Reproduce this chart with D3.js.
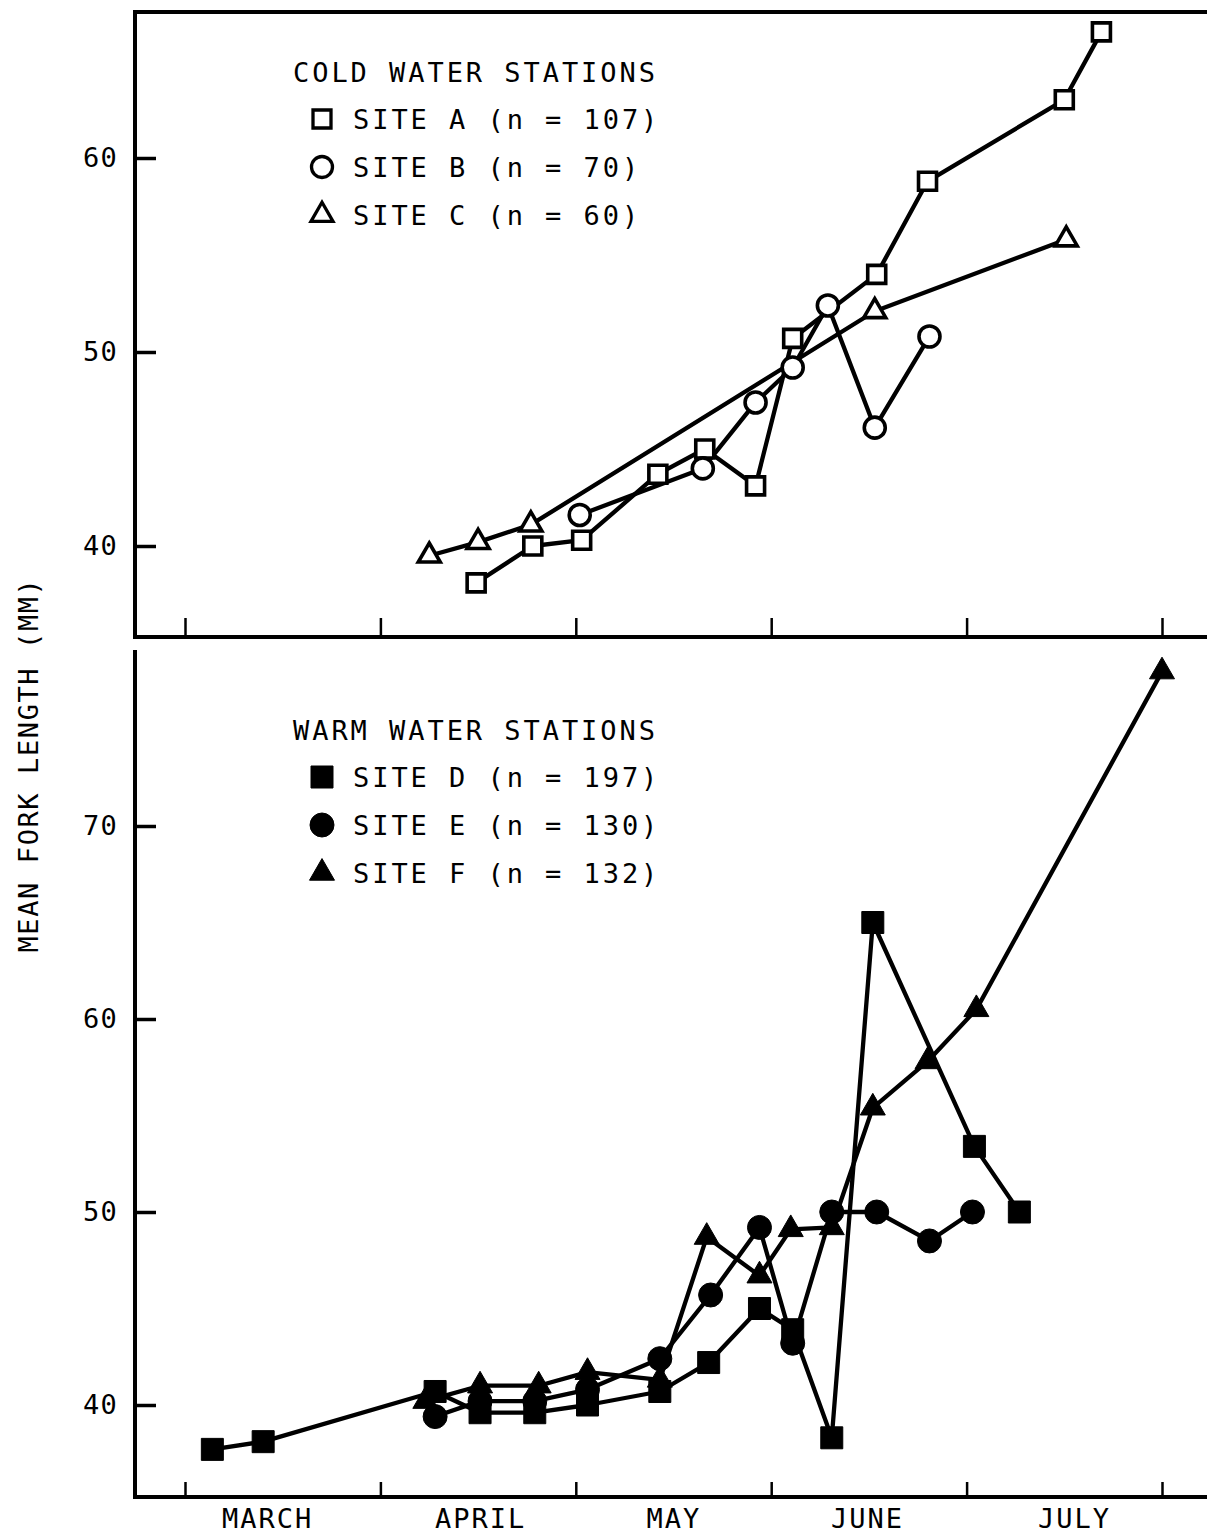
<!DOCTYPE html>
<html>
<head>
<meta charset="utf-8">
<script src="https://cdn.jsdelivr.net/npm/d3@7"></script>
<style>
  html, body { margin: 0; padding: 0; background: #fff; }
  svg { display: block; }
  text { font-family: "DejaVu Sans Mono", "Liberation Mono", monospace; fill: #000; }
</style>
</head>
<body>
<svg id="chart" width="1207" height="1535"></svg>
<script>
// Sampling time is measured in months from 1 March (0 = 1 Mar, 1 = 1 Apr, ...).
const monthNames = ["MARCH", "APRIL", "MAY", "JUNE", "JULY"];
const monthLabelAt = [0.42, 1.51, 2.5, 3.49, 4.55];
const monthBoundaries = [0, 1, 2, 3, 4, 5];

const coldTicks = [40, 50, 60];
const warmTicks = [40, 50, 60, 70];

// Cold water stations: [month, mean fork length (mm)]
const siteA = [[1.49, 38.1], [1.78, 40.0], [2.03, 40.3], [2.42, 43.7], [2.66, 45.0], [2.92, 43.1],
               [3.11, 50.7], [3.54, 54.0], [3.80, 58.8], [4.50, 63.0], [4.69, 66.5]];
const siteB = [[2.02, 41.6], [2.65, 44.0], [2.92, 47.4], [3.11, 49.2], [3.29, 52.4], [3.53, 46.1], [3.81, 50.8]];
const siteC = [[1.25, 39.5], [1.50, 40.2], [1.77, 41.1], [3.53, 52.1], [4.51, 55.8]];

// Warm water stations
const siteD = [[0.14, 37.7], [0.40, 38.1], [1.28, 40.7], [1.51, 39.6], [1.79, 39.6], [2.06, 40.0], [2.43, 40.7],
               [2.68, 42.2], [2.94, 45.0], [3.11, 43.9], [3.31, 38.3], [3.52, 65.0], [4.04, 53.4], [4.27, 50.0]];
const siteE = [[1.28, 39.4], [1.51, 40.2], [1.79, 40.2], [2.06, 40.8], [2.43, 42.4], [2.69, 45.7],
               [2.94, 49.2], [3.11, 43.2], [3.31, 50.0], [3.54, 50.0], [3.81, 48.5], [4.03, 50.0]];
const siteF = [[1.23, 40.2], [1.51, 41.0], [1.81, 41.0], [2.06, 41.7], [2.43, 41.3], [2.67, 48.7], [2.94, 46.7],
               [3.10, 49.1], [3.31, 49.2], [3.52, 55.4], [3.80, 57.8], [4.05, 60.5], [5.00, 78.0]];

const coldLegend = { title: "COLD WATER STATIONS", rows: [
  { label: "SITE A (n = 107)", shape: "square", filled: false },
  { label: "SITE B (n = 70)",  shape: "circle", filled: false },
  { label: "SITE C (n = 60)",  shape: "triangle", filled: false } ] };
const warmLegend = { title: "WARM WATER STATIONS", rows: [
  { label: "SITE D (n = 197)", shape: "square", filled: true },
  { label: "SITE E (n = 130)", shape: "circle", filled: true },
  { label: "SITE F (n = 132)", shape: "triangle", filled: true } ] };

// ---- layout ----
const plotLeft = 135, plotRight = 1207;
const FONT = 27;

const svg = d3.select("#chart");
const x = d3.scaleLinear().domain([0, 5]).range([185, 1162]);

const panels = [
  { top: 12, bottom: 637, y: d3.scaleLinear().domain([40, 60]).range([546, 158]), ticks: coldTicks,
    frameTop: true, xTick: 19, legend: coldLegend, legendY: 72,
    series: [ { data: siteC, shape: "triangle", filled: false },
              { data: siteA, shape: "square", filled: false },
              { data: siteB, shape: "circle", filled: false } ] },
  { top: 652, bottom: 1497, y: d3.scaleLinear().domain([40, 70]).range([1405, 826]), ticks: warmTicks,
    frameTop: false, xTick: 15, legend: warmLegend, legendY: 730,
    series: [ { data: siteD, shape: "square", filled: true },
              { data: siteE, shape: "circle", filled: true },
              { data: siteF, shape: "triangle", filled: true } ] }
];

function markerPath(shape, filled) {
  if (shape === "square") {
    const s = filled ? 22 : 18;
    return `M${-s/2},${-s/2}H${s/2}V${s/2}H${-s/2}Z`;
  }
  if (shape === "circle") {
    const r = filled ? 12 : 10.5;
    return `M${r},0A${r},${r} 0 1,1 ${-r},0A${r},${r} 0 1,1 ${r},0Z`;
  }
  const a = filled ? 25 : 22, h = a * Math.sqrt(3) / 2;
  return `M0,${-2*h/3}L${a/2},${h/3}L${-a/2},${h/3}Z`;
}

function drawMarkers(g, data, shape, filled, xs, ys) {
  g.selectAll(null).data(data).enter().append("path")
    .attr("d", markerPath(shape, filled))
    .attr("transform", d => `translate(${xs(d[0])},${ys(d[1])})`)
    .attr("fill", filled ? "#000" : "#fff")
    .attr("stroke", "#000")
    .attr("stroke-width", filled ? 1 : 3.6)
    .attr("stroke-linejoin", "miter");
}

panels.forEach(p => {
  const g = svg.append("g");
  const y = p.y;

  // frame: left axis, baseline, optional top rule
  g.append("line").attr("x1", plotLeft).attr("x2", plotLeft).attr("y1", p.top - 2).attr("y2", p.bottom + 2)
    .attr("stroke", "#000").attr("stroke-width", 4);
  g.append("line").attr("x1", plotLeft - 2).attr("x2", plotRight).attr("y1", p.bottom).attr("y2", p.bottom)
    .attr("stroke", "#000").attr("stroke-width", 4);
  if (p.frameTop) {
    g.append("line").attr("x1", plotLeft - 2).attr("x2", plotRight).attr("y1", p.top).attr("y2", p.top)
      .attr("stroke", "#000").attr("stroke-width", 4);
  }

  // y axis ticks pointing inward
  const yAxis = d3.axisLeft(y).tickValues(p.ticks).tickSize(-21).tickPadding(17).tickFormat(d3.format("d"));
  const ya = g.append("g").attr("transform", `translate(${plotLeft},0)`).call(yAxis);
  ya.select(".domain").remove();
  ya.selectAll(".tick line").attr("stroke", "#000").attr("stroke-width", 3.5);
  ya.selectAll(".tick text").attr("font-size", FONT).attr("letter-spacing", 1.2)
    .attr("font-family", "DejaVu Sans Mono").attr("fill", "#000");

  // x axis: month boundary ticks pointing inward
  const xAxis = d3.axisBottom(x).tickValues(monthBoundaries).tickSize(-p.xTick).tickFormat("");
  const xa = g.append("g").attr("transform", `translate(0,${p.bottom})`).call(xAxis);
  xa.select(".domain").remove();
  xa.selectAll(".tick line").attr("stroke", "#000").attr("stroke-width", 2.5);

  // series lines then markers
  const line = d3.line().x(d => x(d[0])).y(d => y(d[1]));
  p.series.forEach(s => {
    g.append("path").datum(s.data).attr("d", line)
      .attr("fill", "none").attr("stroke", "#000").attr("stroke-width", 4.3).attr("stroke-linejoin", "round");
  });
  p.series.forEach(s => drawMarkers(g, s.data, s.shape, s.filled, x, y));

  // legend
  const lg = g.append("g");
  lg.append("text").attr("x", 293).attr("y", p.legendY + 10).attr("font-size", FONT)
    .attr("letter-spacing", 2.95).text(p.legend.title);
  p.legend.rows.forEach((r, i) => {
    const cy = p.legendY + 47 + i * 48;
    lg.append("path").attr("d", markerPath(r.shape, r.filled))
      .attr("transform", `translate(322,${cy})`)
      .attr("fill", r.filled ? "#000" : "#fff").attr("stroke", "#000")
      .attr("stroke-width", r.filled ? 1 : 3.3);
    lg.append("text").attr("x", 353).attr("y", cy + 10).attr("font-size", FONT)
      .attr("letter-spacing", 2.95).attr("xml:space", "preserve").text(r.label);
  });
});

// month names under the lower panel
const labelAxis = d3.axisBottom(x).tickValues(monthLabelAt).tickSize(0).tickPadding(12)
  .tickFormat((d, i) => monthNames[i]);
const la = svg.append("g").attr("transform", "translate(0,1497)").call(labelAxis);
la.select(".domain").remove();
la.selectAll(".tick text").attr("font-size", FONT).attr("letter-spacing", 2)
  .attr("font-family", "DejaVu Sans Mono").attr("fill", "#000").attr("dy", "0.72em");

// y axis title
svg.append("text")
  .attr("transform", "translate(38,765) rotate(-90)")
  .attr("text-anchor", "middle")
  .attr("font-size", FONT)
  .attr("letter-spacing", 1.6)
  .text("MEAN FORK LENGTH (MM)");
</script>
</body>
</html>
